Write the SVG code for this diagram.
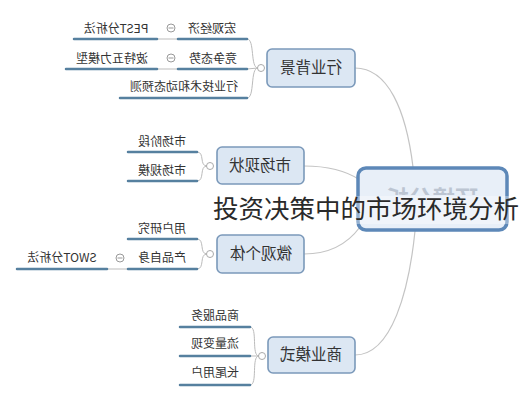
<svg xmlns="http://www.w3.org/2000/svg" width="523" height="400" viewBox="0 0 523 400">
<defs>
<style>
.t1{font-family:"Noto Sans CJK SC","Liberation Sans",sans-serif;font-size:15.5px;fill:#333;text-anchor:middle}
.t2{font-family:"Noto Sans CJK SC","Liberation Sans",sans-serif;font-size:12px;fill:#333;text-anchor:middle}
.n1{fill:#dce7f3;stroke:#7b99ba;stroke-width:1.6}
.ul{stroke:#56809f;stroke-width:2.5;fill:none;stroke-linecap:round}
.thin{stroke:#bbbbbb;stroke-width:1;fill:none}
.con{stroke:#c4c4c4;stroke-width:1.2;fill:none}
.dot{fill:#fff;stroke:#aaa;stroke-width:1}
.col{fill:#fff;stroke:#999;stroke-width:1}
</style>
<clipPath id="ctop"><rect x="357" y="160" width="152" height="35"/></clipPath>
</defs>
<rect width="523" height="400" fill="#fff"/>

<g id="connectors">
<path class="con" d="M355,68 C388,68 406,110 413,167"/>
<path class="con" d="M304,166 C326,166 345,170 360,180"/>
<path class="con" d="M304,254 C326,254 346,246 360,227"/>
<path class="con" d="M355,355 C392,355 409,290 415,231"/>
<path class="thin" d="M258,68 C250,68 255,39 247,39"/>
<path class="thin" d="M258,68 L247,69"/>
<path class="thin" d="M258,68 C250,68 255,98 247,98"/>
<path class="thin" d="M207,166 C199,166 205,152 197,152"/>
<path class="thin" d="M207,166 C199,166 205,181 197,181"/>
<path class="thin" d="M207,254 C199,254 205,239 197,239"/>
<path class="thin" d="M207,254 C199,254 205,269 197,269"/>
<path class="thin" d="M259,356 C251,356 258,327 250,327"/>
<path class="thin" d="M259,356 L250,356"/>
<path class="thin" d="M259,356 C251,356 258,385 250,385"/>
<path class="thin" d="M157,39 L178,39"/>
<path class="thin" d="M157,69 L178,69"/>
<path class="thin" d="M107,269 L128,269"/>
<circle class="dot" cx="261" cy="68" r="3.5"/>
<circle class="dot" cx="210" cy="166" r="3.5"/>
<circle class="dot" cx="210" cy="254" r="3.5"/>
<circle class="dot" cx="262" cy="356" r="3.5"/>
</g>

<g id="central">
<rect x="358" y="168" width="149" height="62" rx="8" fill="#e8eff8" stroke="#5d88b8" stroke-width="3.5"/>
<text clip-path="url(#ctop)" transform="matrix(-1 0 0 1 864 0)" x="432" y="207" style="font-family:'Noto Sans CJK SC',sans-serif;font-size:23px;font-weight:bold;fill:#bcc5d2;text-anchor:middle">环境分析</text>
</g>

<g id="n-hangye">
<rect class="n1" x="267" y="49" width="88" height="38" rx="5"/>
<text class="t1" transform="matrix(-1 0 0 1 622 0)" x="311" y="73">行业背景</text>
</g>
<g id="n-hongguan">
<line class="ul" x1="178" y1="39" x2="247" y2="39"/>
<text class="t2" transform="matrix(-1 0 0 1 424 0)" x="212" y="33">宏观经济</text>
</g>
<g id="n-pest">
<line class="ul" x1="74" y1="39" x2="157" y2="39"/>
<text class="t2" transform="matrix(-1 0 0 1 232 0)" x="116" y="33">PEST分析法</text>
</g>
<g id="n-jingzheng">
<line class="ul" x1="178" y1="69" x2="247" y2="69"/>
<text class="t2" transform="matrix(-1 0 0 1 426 0)" x="213" y="63">竞争态势</text>
</g>
<g id="n-porter">
<line class="ul" x1="66" y1="69" x2="157" y2="69"/>
<text class="t2" transform="matrix(-1 0 0 1 224 0)" x="112" y="63">波特五力模型</text>
</g>
<g id="n-jishu">
<line class="ul" x1="120" y1="98" x2="247" y2="98"/>
<text class="t2" transform="matrix(-1 0 0 1 368 0)" x="184" y="91">行业技术和动态预测</text>
</g>
<g id="collapse-1">
<circle class="col" cx="171" cy="28" r="4"/><line x1="168.5" y1="28" x2="173.5" y2="28" stroke="#999"/>
<circle class="col" cx="171" cy="58" r="4"/><line x1="168.5" y1="58" x2="173.5" y2="58" stroke="#999"/>
</g>

<g id="n-xianzhuang">
<rect class="n1" x="217" y="147" width="87" height="37" rx="5"/>
<text class="t1" transform="matrix(-1 0 0 1 520 0)" x="260" y="171">市场现状</text>
</g>
<g id="n-jieduan">
<line class="ul" x1="128" y1="152" x2="197" y2="152"/>
<text class="t2" transform="matrix(-1 0 0 1 324 0)" x="162" y="146">市场阶段</text>
</g>
<g id="n-guimo">
<line class="ul" x1="128" y1="181" x2="197" y2="181"/>
<text class="t2" transform="matrix(-1 0 0 1 324 0)" x="162" y="175">市场规模</text>
</g>

<g id="n-weiguan">
<rect class="n1" x="217" y="235" width="87" height="38" rx="5"/>
<text class="t1" transform="matrix(-1 0 0 1 522 0)" x="261" y="259">微观个体</text>
</g>
<g id="n-yonghu">
<line class="ul" x1="128" y1="239" x2="197" y2="239"/>
<text class="t2" transform="matrix(-1 0 0 1 324 0)" x="162" y="233">用户研究</text>
</g>
<g id="n-chanpin">
<line class="ul" x1="128" y1="269" x2="197" y2="269"/>
<text class="t2" transform="matrix(-1 0 0 1 324 0)" x="162" y="262">产品自身</text>
</g>
<g id="n-swot">
<line class="ul" x1="17" y1="269" x2="107" y2="269"/>
<text class="t2" transform="matrix(-1 0 0 1 124 0)" x="62" y="262">SWOT分析法</text>
</g>
<g id="collapse-2">
<circle class="col" cx="120" cy="258" r="4"/><line x1="117.5" y1="258" x2="122.5" y2="258" stroke="#999"/>
</g>

<g id="n-shangye">
<rect class="n1" x="268" y="337" width="87" height="36" rx="5"/>
<text class="t1" transform="matrix(-1 0 0 1 622 0)" x="311" y="360">商业模式</text>
</g>
<g id="n-fuwu">
<line class="ul" x1="180" y1="327" x2="250" y2="327"/>
<text class="t2" transform="matrix(-1 0 0 1 430 0)" x="215" y="320">商品服务</text>
</g>
<g id="n-bianxian">
<line class="ul" x1="180" y1="356" x2="250" y2="356"/>
<text class="t2" transform="matrix(-1 0 0 1 430 0)" x="215" y="348">流量变现</text>
</g>
<g id="n-changwei">
<line class="ul" x1="180" y1="385" x2="250" y2="385"/>
<text class="t2" transform="matrix(-1 0 0 1 430 0)" x="215" y="377">长尾用户</text>
</g>

<g id="title">
<rect x="210" y="196" width="313" height="28" fill="#fff" opacity="0.35"/>
<text x="213" y="218" style="font-family:'Noto Sans CJK SC',sans-serif;font-size:25.5px;fill:#2a2a2a">投资决策中的市场环境分析</text>
</g>
</svg>
